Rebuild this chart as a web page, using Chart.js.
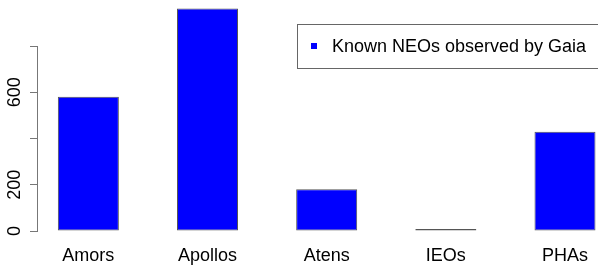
<!DOCTYPE html>
<html>
<head>
<meta charset="utf-8">
<script src="https://cdn.jsdelivr.net/npm/chart.js@4"></script>
<style>
  html, body { margin: 0; padding: 0; background: #fff; overflow: hidden; }
  canvas { display: block; }
</style>
</head>
<body>
<canvas id="neoChart" width="598" height="270"></canvas>
<script>
const categories = ['Amors', 'Apollos', 'Atens', 'IEOs', 'PHAs'];
const neoCounts = [581, 962, 181, 2, 429];
const yTicks = [0, 200, 400, 600, 800];
const yTickLabels = ['0', '200', '', '600', ''];
const seriesLabel = 'Known NEOs observed by Gaia';

const FONT = 'Liberation Sans, Arial, Helvetica, sans-serif';

// R-style boxed legend, drawn after everything else
const boxedLegend = {
    id: 'boxedLegend',
    afterDraw(chart) {
        const ctx = chart.ctx;
        ctx.save();
        ctx.fillStyle = '#fff';
        ctx.fillRect(297.5, 24.5, 310, 44);
        ctx.strokeStyle = '#666';
        ctx.lineWidth = 1;
        ctx.strokeRect(297.5, 24.5, 310, 44);
        ctx.fillStyle = '#0000ff';
        ctx.fillRect(311, 43, 6, 6);
        ctx.fillStyle = '#000';
        ctx.font = '18px ' + FONT;
        ctx.textBaseline = 'middle';
        ctx.textAlign = 'left';
        ctx.fillText(seriesLabel, 332, 47);
        ctx.restore();
    }
};

const ctx = document.getElementById('neoChart').getContext('2d');
new Chart(ctx, {
    type: 'bar',
    data: {
        datasets: [{
            label: seriesLabel,
            data: categories.map((c, i) => ({ x: i, y: neoCounts[i] })),
            backgroundColor: '#0000ff',
            borderColor: '#555',
            borderWidth: 1,
            borderSkipped: false,
            minBarLength: 2,
            barPercentage: 0.512,
            categoryPercentage: 1,
            clip: false
        }]
    },
    options: {
        responsive: false,
        animation: false,
        layout: { padding: { top: 46, left: 0, right: 0, bottom: 0 } },
        plugins: {
            legend: { display: false },
            tooltip: { enabled: false }
        },
        scales: {
            x: {
                type: 'linear',
                offset: false,
                min: -0.431,
                max: 4.277,
                afterBuildTicks: (scale) => {
                    scale.ticks = categories.map((c, i) => ({ value: i }));
                },
                afterFit: (scale) => {
                    scale.height = 39;
                    scale.paddingLeft = 0;
                    scale.paddingRight = 0;
                },
                grid: { display: false, drawTicks: false, offset: false },
                border: { display: false },
                ticks: {
                    autoSkip: false,
                    maxRotation: 0,
                    padding: 14,
                    color: '#000',
                    font: { family: FONT, size: 18 },
                    callback: (v) => categories[v]
                }
            },
            y: {
                min: 0,
                max: 800,
                afterBuildTicks: (scale) => {
                    scale.ticks = yTicks.map(v => ({ value: v }));
                },
                afterFit: (scale) => { scale.width = 37; },
                grid: {
                    drawOnChartArea: false,
                    drawTicks: true,
                    tickLength: 7,
                    color: '#777'
                },
                border: { display: true, color: '#777', width: 1 },
                ticks: {
                    minRotation: 90,
                    maxRotation: 90,
                    crossAlign: 'center',
                    padding: 0,
                    color: '#000',
                    font: { family: FONT, size: 18 },
                    callback: (v) => yTickLabels[yTicks.indexOf(v)]
                }
            }
        }
    },
    plugins: [boxedLegend]
});
</script>
</body>
</html>
